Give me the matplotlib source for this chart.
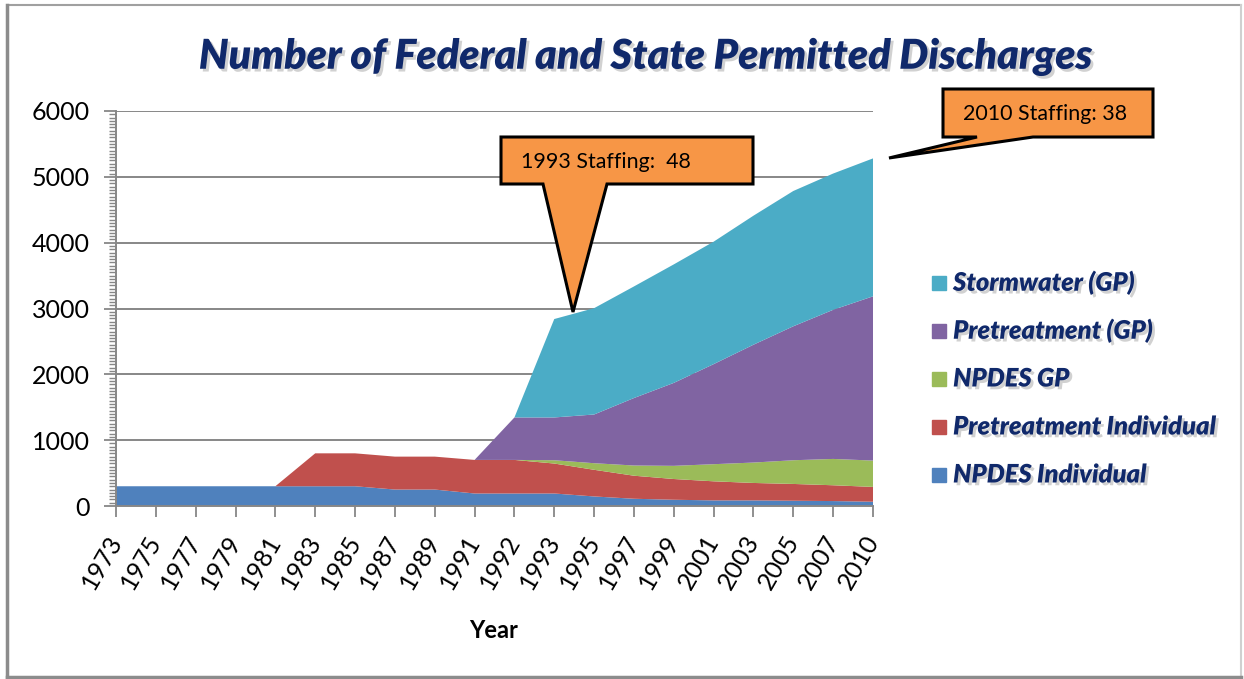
import matplotlib
matplotlib.use("Agg")
import matplotlib.pyplot as plt
from matplotlib.patches import Polygon, Rectangle
from matplotlib.lines import Line2D
from matplotlib.ticker import MultipleLocator
import matplotlib.patheffects as pe
import numpy as np

# ---------------- data ----------------
years = ['1973', '1975', '1977', '1979', '1981', '1983', '1985', '1987', '1989', '1991',
         '1992', '1993', '1995', '1997', '1999', '2001', '2003', '2005', '2007', '2010']
npdes_individual = [300, 300, 300, 300, 300, 300, 300, 250, 250, 190,
                    190, 190, 145, 110, 95, 85, 85, 80, 75, 65]
pretreatment_individual = [0, 0, 0, 0, 0, 500, 500, 500, 500, 510,
                           510, 455, 405, 350, 315, 290, 265, 255, 240, 225]
npdes_gp = [0, 0, 0, 0, 0, 0, 0, 0, 0, 0,
            0, 50, 100, 155, 200, 260, 310, 360, 400, 400]
pretreatment_gp = [0, 0, 0, 0, 0, 0, 0, 0, 0, 0,
                   645, 650, 740, 1025, 1260, 1520, 1790, 2035, 2265, 2495]
stormwater_gp = [0, 0, 0, 0, 0, 0, 0, 0, 0, 0,
                 0, 1495, 1615, 1695, 1800, 1860, 1960, 2055, 2070, 2095]
series_names = ['NPDES Individual', 'Pretreatment Individual', 'NPDES GP',
                'Pretreatment (GP)', 'Stormwater (GP)']
series_colors = ['#4F81BD', '#C0504D', '#9BBB59', '#8064A2', '#4BACC6']
callout_texts = ['1993 Staffing:  48', '2010 Staffing: 38']
title_text = 'Number of Federal and State Permitted Discharges'

# ---------------- figure ----------------
W, H = 1244, 679
fig = plt.figure(figsize=(W / 100, H / 100), dpi=100)
plt.rcParams['font.family'] = ['Lato', 'DejaVu Sans']


def fx(x):
    return x / W


def fy(y):
    return 1 - y / H


navy = '#10296B'
grid_c = '#878787'

ax = fig.add_axes([fx(116), fy(506), fx(873) - fx(116), fy(111) - fy(506)])
x = np.arange(len(years))
ax.stackplot(x, npdes_individual, pretreatment_individual, npdes_gp,
             pretreatment_gp, stormwater_gp, colors=series_colors,
             labels=series_names, zorder=3, linewidth=0)
ax.set_xlim(0, len(years) - 1)
ax.set_ylim(0, 6000)
ax.yaxis.set_major_locator(MultipleLocator(1000))
ax.yaxis.set_minor_locator(MultipleLocator(50))
ax.grid(axis='y', which='major', color=grid_c, linewidth=1.4, zorder=0)
ax.set_axisbelow(True)
for s in ['top', 'right']:
    ax.spines[s].set_visible(False)
for s in ['left', 'bottom']:
    ax.spines[s].set_color(grid_c)
    ax.spines[s].set_linewidth(1.4)
    ax.spines[s].set_zorder(5)
ax.set_xticks(x)
ax.set_xticklabels(years, rotation=60, ha='right', va='center',
                   rotation_mode='anchor', fontsize=18)
ax.tick_params(axis='x', length=8, width=1.3, color=grid_c, pad=14)
ax.tick_params(axis='y', which='major', length=9, width=1.3, color=grid_c,
               labelsize=18, pad=10)
ax.tick_params(axis='y', which='minor', length=5, width=1.0, color=grid_c)

renderer = fig.canvas.get_renderer()


def fit_text(t, target_w):
    bb = t.get_window_extent(renderer=renderer)
    t.set_fontsize(t.get_fontsize() * target_w / bb.width)


shadow = [pe.SimplePatchShadow(offset=(2, -2), shadow_rgbFace='#9A9A9A', alpha=0.45),
          pe.Normal()]

# axis title
fig.text(fx(494), fy(631), 'Year', ha='center', va='center', fontsize=17,
         fontweight='bold', color='black')

# title
tt = fig.text(fx(646), fy(57), title_text, ha='center', va='center',
              fontsize=26, fontweight='heavy', style='italic', color=navy,
              path_effects=shadow)
fit_text(tt, 1093 - 199)

# legend (manual, reversed order)
leg_y = [283, 331, 379, 427, 475]
idxs = [4, 3, 2, 1, 0]
leg_texts = []
for yy, i in zip(leg_y, idxs):
    fig.add_artist(Rectangle((fx(932), fy(yy + 7)), fx(14), 14 / H,
                             transform=fig.transFigure, color=series_colors[i], zorder=6))
    t = fig.text(fx(953), fy(yy), series_names[i], ha='left', va='center',
                 fontsize=14, fontweight='heavy', style='italic', color=navy,
                 path_effects=shadow, zorder=6)
    leg_texts.append(t)
fit_text(leg_texts[3], 1217 - 953)
fs = leg_texts[3].get_fontsize()
for t in leg_texts:
    t.set_fontsize(fs)

# callouts
orange = '#F79646'
poly1 = [(501, 137), (753, 137), (753, 184), (607, 184), (573, 312), (543, 184), (501, 184)]
poly2 = [(943, 89), (1153, 89), (1153, 137), (1033, 137), (889, 158), (977, 137), (943, 137)]
for poly in (poly1, poly2):
    fig.add_artist(Polygon([(fx(a), fy(b)) for a, b in poly], closed=True,
                           transform=fig.transFigure, facecolor=orange,
                           edgecolor='black', linewidth=2.2, joinstyle='miter', zorder=8))
c1 = fig.text(fx(521), fy(162), callout_texts[0], ha='left', va='center',
              fontsize=13, color='black', zorder=9)
fit_text(c1, 690 - 521)
c2 = fig.text(fx(963), fy(114), callout_texts[1], ha='left', va='center',
              fontsize=13, color='black', zorder=9)
fit_text(c2, 1126 - 963)

# outer frame
fig.add_artist(Line2D([fx(8), fx(1241)], [fy(5), fy(5)], transform=fig.transFigure,
                      color='#A0A0A0', linewidth=1.5))
fig.add_artist(Line2D([fx(1241), fx(1241)], [fy(5), fy(676)], transform=fig.transFigure,
                      color='#D0D0D0', linewidth=1.5))
fig.add_artist(Line2D([fx(7), fx(7)], [fy(5), fy(677)], transform=fig.transFigure,
                      color='#8C8C8C', linewidth=2.5))
fig.add_artist(Line2D([fx(7), fx(1241)], [fy(677), fy(677)], transform=fig.transFigure,
                      color='#8C8C8C', linewidth=2.5))

fig.savefig('out.png', dpi=100, facecolor='white')
